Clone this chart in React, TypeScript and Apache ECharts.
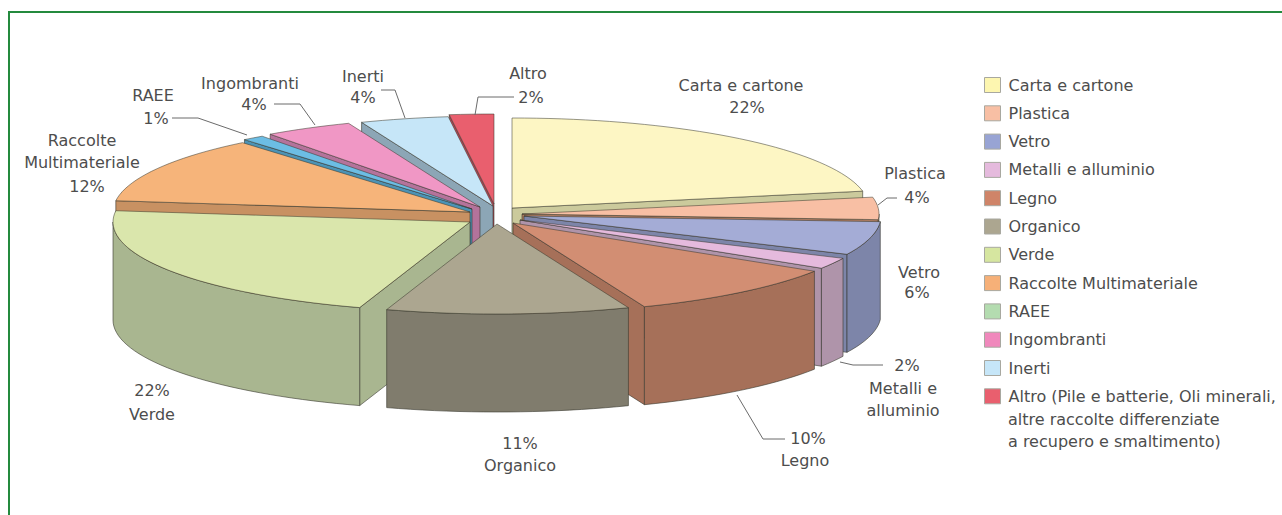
import React, { useEffect, useRef } from "react";
import * as echarts from "echarts";

const categories = ["Carta e cartone", "Plastica", "Vetro", "Metalli e alluminio", "Legno", "Organico", "Verde", "Raccolte Multimateriale", "RAEE", "Ingombranti", "Inerti", "Altro"];
const percentages = [22, 4, 6, 2, 10, 11, 22, 12, 1, 4, 4, 2];
const legendLabels = ["Carta e cartone", "Plastica", "Vetro", "Metalli e alluminio", "Legno", "Organico", "Verde", "Raccolte Multimateriale", "RAEE", "Ingombranti", "Inerti", "Altro (Pile e batterie, Oli minerali,"];
const legendContinuation = ["altre raccolte differenziate", "a recupero e smaltimento)"];

// Styling
const topColors = ["#FDF6C4", "#F8BFA4", "#A4ACD6", "#E5BADD", "#D28E73", "#ACA690", "#DAE6AC", "#F6B47A", "#6CBDE4", "#F097C5", "#C6E6F8", "#E95F6E"];
const wallColors = ["#CBCA9C", "#AD7C62", "#7D85A9", "#AF94AA", "#A67059", "#807C6D", "#A9B690", "#C89162", "#4C93B5", "#B4739B", "#8CA6B6", "#B44454"];
const legendColors = ["#FDF6B0", "#F8BFA4", "#98A4D4", "#E5BADD", "#CF8468", "#ACA690", "#D6E6A0", "#F6B078", "#B4DCB0", "#F088BC", "#C6E6F8", "#E95F6E"];
const FONT = "'DejaVu Sans'";
const FONT_SIZE = 16;
const TEXT = "#4d4d4d";

// Projection of the pie and how far each slice has been pulled out (layout, not data)
const RX = 357, RY = 90, DEPTH = 98;
const apexX = [512, 522, 524, 520, 513, 497, 470, 470, 472, 480, 493, 494];
const apexY = [208, 214, 216, 220, 223, 224, 222, 212, 209, 207, 206, 204];
const paintOrder = [11, 10, 9, 8, 7, 0, 1, 2, 3, 6, 4, 5];

const total = percentages.reduce((a, b) => a + b, 0);
function angleRange(i: number): [number, number] {
  let before = 0;
  for (let k = 0; k < i; k++) before += percentages[k];
  return [(before / total) * 360, ((before + percentages[i]) / total) * 360];
}
function rimPoint(i: number, deg: number, drop = 0): [number, number] {
  const r = (deg * Math.PI) / 180;
  return [apexX[i] + RX * Math.sin(r), apexY[i] - RY * Math.cos(r) + drop];
}
function arcPoints(i: number, a0: number, a1: number, drop = 0) {
  const n = Math.max(2, Math.ceil((a1 - a0) / 2));
  const pts: [number, number][] = [];
  for (let k = 0; k <= n; k++) pts.push(rimPoint(i, a0 + ((a1 - a0) * k) / n, drop));
  return pts;
}

function renderSlice(i: number) {
  const [a0, a1] = angleRange(i);
  const apex: [number, number] = [apexX[i], apexY[i]];
  const apexLow: [number, number] = [apexX[i], apexY[i] + DEPTH];
  const edge = "rgba(55,55,45,0.75)";
  const wallStyle = { fill: wallColors[i], stroke: edge, lineWidth: 0.8 };
  const children: any[] = [];
  // only the walls that face the viewer
  const visibleWalls = [...(a0 > 180 ? [a0] : []), ...(a1 < 180 ? [a1] : [])];
  for (const a of visibleWalls) {
    children.push({
      type: "polygon",
      shape: { points: [apex, rimPoint(i, a), rimPoint(i, a, DEPTH), apexLow] },
      style: wallStyle,
    });
  }
  const f0 = Math.max(a0, 90), f1 = Math.min(a1, 270);
  if (f1 > f0) {
    children.push({
      type: "polygon",
      shape: { points: [...arcPoints(i, f0, f1), ...arcPoints(i, f0, f1, DEPTH).reverse()] },
      style: wallStyle,
    });
  }
  children.push({
    type: "polygon",
    shape: { points: [apex, ...arcPoints(i, a0, a1)] },
    style: { fill: topColors[i], stroke: edge, lineWidth: 0.7 },
  });
  return { type: "group", children };
}

const labels: { lines: string[]; x: number[]; y: number[] }[] = [
  { lines: ["Carta e cartone", "22%"], x: [741, 747], y: [85, 107] },
  { lines: ["Plastica", "4%"], x: [915, 917], y: [173, 197] },
  { lines: ["Vetro", "6%"], x: [919, 917], y: [272, 292] },
  { lines: ["2%", "Metalli e", "alluminio"], x: [907, 903, 903], y: [365, 388, 410] },
  { lines: ["10%", "Legno"], x: [808, 805], y: [438, 460] },
  { lines: ["11%", "Organico"], x: [520, 520], y: [443, 465] },
  { lines: ["22%", "Verde"], x: [152, 152], y: [390, 414] },
  { lines: ["Raccolte", "Multimateriale", "12%"], x: [82, 82, 87], y: [140, 162, 186] },
  { lines: ["RAEE", "1%"], x: [153, 156], y: [95, 118] },
  { lines: ["Ingombranti", "4%"], x: [250, 254], y: [83, 104] },
  { lines: ["Inerti", "4%"], x: [363, 363], y: [76, 97] },
  { lines: ["Altro", "2%"], x: [528, 531], y: [73, 97] },
];
const leaders: number[][][] = [
  [[878, 205], [887, 198], [897, 198]],
  [[840, 362], [853, 365], [883, 365]],
  [[737, 395], [763, 439], [785, 439]],
  [[172, 118], [198, 118], [247, 135]],
  [[274, 104], [300, 104], [315, 125]],
  [[381, 90], [395, 90], [405, 118]],
  [[514, 97], [478, 97], [475, 115]],
];

export default function App() {
  const ref = useRef<HTMLDivElement>(null);
  useEffect(() => {
    if (!ref.current) return;
    document.body.style.margin = "0";
    const chart = echarts.init(ref.current, undefined, { renderer: "svg" });
    const graphic: any[] = [
      {
        type: "polyline",
        shape: { points: [[9, 515], [9, 12], [1282, 12]] },
        style: { stroke: "#248A3E", lineWidth: 2, fill: "none" },
        silent: true,
      },
    ];
    leaders.forEach((points) =>
      graphic.push({ type: "polyline", shape: { points }, style: { stroke: "#6b6b6b", lineWidth: 1, fill: "none" }, z: 50, silent: true })
    );
    labels.forEach((l) =>
      l.lines.forEach((text, k) =>
        graphic.push({
          type: "text",
          x: l.x[k],
          y: l.y[k],
          style: { text, font: `${FONT_SIZE}px ${FONT}`, fill: TEXT, textAlign: "center", textVerticalAlign: "middle" },
          z: 60,
          silent: true,
        })
      )
    );
    legendContinuation.forEach((text, k) =>
      graphic.push({
        type: "text",
        x: 1008,
        y: 419 + k * 22,
        style: { text, font: `${FONT_SIZE}px ${FONT}`, fill: TEXT, textAlign: "left", textVerticalAlign: "middle" },
        silent: true,
      })
    );
    chart.setOption({
      animation: false,
      backgroundColor: "#ffffff",
      graphic,
      legend: {
        orient: "vertical",
        left: 984,
        top: 77,
        padding: 0,
        itemWidth: 16,
        itemHeight: 15,
        itemGap: 12.3,
        selectedMode: false,
        icon: "rect",
        textStyle: { fontFamily: FONT, fontSize: FONT_SIZE, lineHeight: 15, color: TEXT, padding: [0, 0, 0, 3] },
        formatter: (name: string) => legendLabels[categories.indexOf(name)],
        data: categories.map((name, i) => ({
          name,
          itemStyle: { color: legendColors[i], borderColor: "#a8a8a0", borderWidth: 1 },
        })),
      },
      series: paintOrder.map((i, order) => ({
        type: "custom",
        name: categories[i],
        coordinateSystem: "none",
        z: 2 + order,
        silent: true,
        data: [[percentages[i]]],
        itemStyle: { color: topColors[i] },
        renderItem: () => renderSlice(i),
      })),
    });
    return () => chart.dispose();
  }, []);
  return <div ref={ref} style={{ position: "fixed", left: 0, top: 0, width: 1282, height: 515 }} />;
}
